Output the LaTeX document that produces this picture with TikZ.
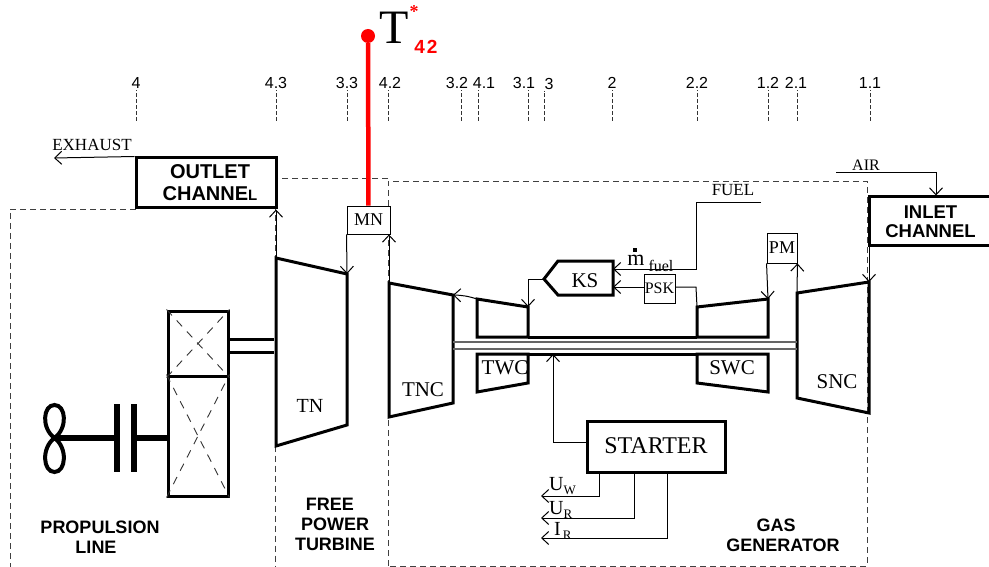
\documentclass[tikz,border=0pt]{standalone}
\usepackage{fontspec}
\setmainfont{Liberation Serif}
\setsansfont{Liberation Sans}
\usetikzlibrary{arrows.meta,positioning}
\newcommand{\fs}[1]{\fontsize{#1}{#1}\selectfont}
\newcommand{\subtxt}[1]{\raisebox{-4pt}{\fs{13}#1}}

\begin{document}
\begin{tikzpicture}[x=1pt,y=-1pt,>={Straight Barb[length=7pt,width=13pt]}]
  \tikzstyle{heavy}=[line width=3pt,line join=miter]
  \tikzstyle{flow}=[line width=1pt]
  \tikzstyle{zone}=[line width=0.9pt,dash pattern=on 6pt off 4pt,black!75]
  \tikzstyle{tick}=[line width=0.8pt,dash pattern=on 3.5pt off 2.5pt,black!80]
  \tikzstyle{cross}=[line width=0.9pt,dash pattern=on 8pt off 7pt,black!80]
  \tikzstyle{station}=[font=\sffamily\fs{16},inner sep=1pt]
  \tikzstyle{serif}=[font=\fs{17},inner sep=0pt]
  \tikzstyle{zonetxt}=[font=\sffamily\bfseries\fs{18},align=center,inner sep=0pt]
  \tikzstyle{bigbox}=[draw,line width=3pt,font=\sffamily\bfseries\fs{20},align=center,inner sep=0pt]
  \tikzstyle{smallbox}=[draw,line width=0.9pt,fill=white,font=\fs{18},inner sep=0pt]
  \useasboundingbox (0,0) rectangle (989,567);

  % zones
  \coordinate (pl1) at (136,209);
  \coordinate (pl2) at (10,209);
  \coordinate (pl3) at (10,567);
  \coordinate (fp1) at (275,178.5);
  \coordinate (fp2) at (388,178.5);
  \coordinate (fp3) at (275,567);
  \coordinate (gg1) at (388,181);
  \coordinate (gg2) at (867,181);
  \coordinate (gg3) at (867,566);
  \coordinate (gg4) at (388,566);
  \draw[zone] (pl1) -- (pl2) -- (pl3);
  \draw[zone] (fp2) -- (fp1) -- (fp3);
  \draw[zone] (gg4) -- (gg1) -- (gg2) -- (gg3) -- cycle;

  % stations
  \coordinate (c4) at (136,121);
  \node[station] (s4) at (136,83) {4};
  \draw[tick] (c4) -- (c4 |- s4.south);
  \coordinate (c43) at (276,121);
  \node[station] (s43) at (276,83) {4.3};
  \draw[tick] (c43) -- (c43 |- s43.south);
  \coordinate (c33) at (347,121);
  \node[station] (s33) at (347,83) {3.3};
  \draw[tick] (c33) -- (c33 |- s33.south);
  \coordinate (c42) at (388,121);
  \node[station] (s42) at (390,83) {4.2};
  \draw[tick] (c42) -- (c42 |- s42.south);
  \coordinate (c32) at (461,121);
  \node[station] (s32) at (457,83) {3.2};
  \draw[tick] (c32) -- (c32 |- s32.south);
  \coordinate (c41) at (478,121);
  \node[station] (s41) at (484,83) {4.1};
  \draw[tick] (c41) -- (c41 |- s41.south);
  \coordinate (c31) at (528,121);
  \node[station] (s31) at (524,83) {3.1};
  \draw[tick] (c31) -- (c31 |- s31.south);
  \coordinate (c3) at (544,121);
  \node[station] (s3) at (549,84) {3};
  \draw[tick] (c3) -- (c3 |- s3.south);
  \coordinate (c2) at (612,121);
  \node[station] (s2) at (612,83) {2};
  \draw[tick] (c2) -- (c2 |- s2.south);
  \coordinate (c22) at (697,121);
  \node[station] (s22) at (697,83) {2.2};
  \draw[tick] (c22) -- (c22 |- s22.south);
  \coordinate (c12) at (768,121);
  \node[station] (s12) at (768,83) {1.2};
  \draw[tick] (c12) -- (c12 |- s12.south);
  \coordinate (c21) at (797,121);
  \node[station] (s21) at (796,83) {2.1};
  \draw[tick] (c21) -- (c21 |- s21.south);
  \coordinate (c11) at (870,121);
  \node[station] (s11) at (870,83) {1.1};
  \draw[tick] (c11) -- (c11 |- s11.south);

  % channels
  \node[bigbox,minimum width=140pt,minimum height=50pt] (outlet) at (206,183) {\raisebox{-2pt}{\hspace{8pt}OUTLET}\\[2pt]\raisebox{-2pt}{\hspace{8pt}CHANNE{\fs{15}L}}};
  \node[bigbox,font=\sffamily\bfseries\fs{18.5},minimum width=126pt,minimum height=49pt] (inlet) at (932,221.5) {\raisebox{-1pt}{\hspace{-3pt}INLET}\\[1pt]\raisebox{-1pt}{\hspace{-3pt}CHANNEL}};
  \coordinate (ex) at (54,158);
  \node[serif] (exhaust) at (92,145) {EXHAUST};
  \draw[flow,->] (outlet.north west) -- (ex);
  \coordinate (air1) at (836,173);
  \coordinate (air2) at (936,173);
  \node[serif,font=\fs{16}] (air) at (866,165) {AIR};
  \draw[flow,->] (air1) -- (air2) -- (air2 |- inlet.north);

  % free power turbine
  \coordinate (tn1) at (276,258);
  \coordinate (tn2) at (347,274);
  \coordinate (tn3) at (347,425);
  \coordinate (tn4) at (276,446);
  \draw[heavy] (tn1) -- (tn2) -- (tn3) -- (tn4) -- cycle;
  \node[serif,font=\fs{20}] (tn) at (310,406) {TN};
  \draw[flow,->] (tn1) -- (tn1 |- outlet.south);

  % gearbox and propeller
  \node[draw,line width=3pt,minimum width=60pt,minimum height=65pt] (gearA) at (198,343.5) {};
  \node[draw,line width=3pt,minimum width=60pt,minimum height=120pt,below=-3pt of gearA] (gearB) {};
  \draw[cross] (gearA.north west) -- (gearA.south east);
  \draw[cross] (gearA.south west) -- (gearA.north east);
  \draw[cross] (gearB.north west) -- (gearB.south east);
  \draw[cross] (gearB.south west) -- (gearB.north east);
  \coordinate (pt1) at (274,339);
  \coordinate (pt2) at (274,352);
  \draw[heavy] (gearA.east |- pt1) -- (pt1);
  \draw[heavy] (gearA.east |- pt2) -- (pt2);
  \coordinate (hub) at (54.5,438);
  \coordinate (blade1) at (54.5,405);
  \coordinate (blade2) at (54.5,472);
  \draw[line width=4pt] (hub) .. controls (41,428) and (43,405) .. (blade1) .. controls (66,405) and (68,428) .. (hub) .. controls (41,448) and (43,472) .. (blade2) .. controls (66,472) and (68,448) .. (hub) -- cycle;
  \node[fill,minimum width=6pt,minimum height=68pt,inner sep=0pt] (clutch1) at (117,438) {};
  \node[fill,minimum width=6pt,minimum height=68pt,inner sep=0pt] (clutch2) at (134,438) {};
  \draw[line width=6pt] (hub) -- (clutch1);
  \draw[line width=6pt] (clutch2) -- (clutch2 -| gearB.west);

  % measuring points
  \node[smallbox,minimum width=43pt,minimum height=28pt] (mn) at (368.5,220) {MN};
  \node[smallbox,minimum width=30pt,minimum height=30pt] (pm) at (782,248) {PM};
  \node[smallbox,font=\fs{16},minimum width=31pt,minimum height=29pt] (psk) at (659.5,288.5) {PSK};
  \draw[flow,->] (mn.south west) -- (tn2);

  % temperature probe
  \node[circle,fill=red,minimum size=14pt,inner sep=0pt] (probe) at (368,36) {};
  \draw[red,line width=4.5pt] (probe) -- (mn);
  \node[inner sep=0pt,font=\fs{48}] (temp) at (394,28) {T};
  \node[inner sep=0pt,red,font=\bfseries\fs{18}] (star) at (414,12) {*};
  \node[inner sep=0pt,red,font=\sffamily\bfseries\fs{19}] (idx) at (426,47) {4\hspace{2pt}2};

  % gas generator
  \coordinate (tnc1) at (389,283);
  \coordinate (tnc2) at (453,295);
  \coordinate (tnc3) at (453,403);
  \coordinate (tnc4) at (389,417);
  \draw[heavy] (tnc1) -- (tnc2) -- (tnc3) -- (tnc4) -- cycle;
  \node[serif,font=\fs{21}] (tnc) at (423,390) {TNC};
  \draw[flow,->] (tnc1) -- (tnc1 |- mn.south);

  \coordinate (twc1) at (477,299);
  \coordinate (twc2) at (528,307);
  \coordinate (twc3) at (528,337);
  \coordinate (twc4) at (477,337);
  \coordinate (twc5) at (477,354);
  \coordinate (twc6) at (528,354);
  \coordinate (twc7) at (528,383);
  \coordinate (twc8) at (477,392);
  \coordinate (swc1) at (697,307);
  \coordinate (swc2) at (768,299);
  \coordinate (swc3) at (768,337);
  \coordinate (swc4) at (697,337);
  \coordinate (swc5) at (697,354);
  \coordinate (swc6) at (768,354);
  \coordinate (swc7) at (768,392);
  \coordinate (swc8) at (697,383);
  \draw[heavy] (twc1) -- (twc2) -- (twc3) -- (twc4) -- cycle;
  \draw[heavy] (twc5) -- (twc6) -- (twc7) -- (twc8) -- cycle;
  \draw[heavy] (swc1) -- (swc2) -- (swc3) -- (swc4) -- cycle;
  \draw[heavy] (swc5) -- (swc6) -- (swc7) -- (swc8) -- cycle;
  \draw[heavy] (twc3) -- (swc4);
  \draw[heavy] (twc6) -- (swc5);
  \node[serif,font=\fs{21}] (twc) at (505,368) {TWC};
  \node[serif,font=\fs{21}] (swc) at (732,368) {SWC};

  \coordinate (snc1) at (797,293);
  \coordinate (snc2) at (869,282);
  \coordinate (snc3) at (869,413);
  \coordinate (snc4) at (797,398);
  \draw[heavy] (snc1) -- (snc2) -- (snc3) -- (snc4) -- cycle;
  \node[serif,font=\fs{21}] (snc) at (837,382) {SNC};

  \coordinate (sh1) at (453,342);
  \coordinate (sh2) at (797,342);
  \coordinate (sh3) at (453,349);
  \coordinate (sh4) at (797,349);
  \draw[line width=2pt,black!60] (sh1) -- (sh2);
  \draw[line width=2pt,black!60] (sh3) -- (sh4);

  \draw[flow,->] (twc1) to[bend right=8] (tnc2);
  \draw[flow,->] (snc2 |- inlet.south) -- (snc2);
  \draw[flow,->] (pm.south west) -- (swc2);
  \draw[flow,->] (snc1) -- (pm.south east);

  % combustor
  \coordinate (ks1) at (544,279);
  \coordinate (ks2) at (558,261);
  \coordinate (ks3) at (613,261);
  \coordinate (ks4) at (613,295);
  \coordinate (ks5) at (558,295);
  \draw[heavy] (ks1) -- (ks2) -- (ks3) -- (ks4) -- (ks5) -- cycle;
  \node[serif,font=\fs{21}] (ks) at (585,281) {KS};
  \coordinate (ksin1) at (613,269);
  \coordinate (ksin2) at (613,287);
  \coordinate (ksout) at (528,279);
  \draw[flow,->] (ks1) -- (ksout) -- (twc2);
  \coordinate (fu1) at (761,203);
  \coordinate (fu2) at (696,203);
  \coordinate (fu3) at (696,269);
  \node[serif] (fuel) at (733,190) {FUEL};
  \draw[flow,->] (fu1) -- (fu2) -- (fu3) -- (ksin1);
  \node[serif,font=\fs{22}] (mdot) at (636,257) {\rlap{\hspace{6pt}\raisebox{14pt}{\rule{3.5pt}{3.5pt}}}m};
  \node[serif,font=\fs{16}] (mfuel) at (661,266) {fuel};
  \draw[flow,->] (psk.west |- ksin2) -- (ksin2);
  \coordinate (pk1) at (696,287);
  \draw[flow] (psk.east |- pk1) -- (pk1) -- (swc1);

  % starter
  \node[draw,line width=3pt,font=\fs{24},minimum width=138pt,minimum height=51pt] (starter) at (656,446.5) {\raisebox{2pt}{STARTER}};
  \coordinate (st1) at (553,442);
  \coordinate (st2) at (553,354);
  \draw[flow,->] (starter.west |- st1) -- (st1) -- (st2);
  \coordinate (uw) at (541,496);
  \coordinate (ur) at (541,518);
  \coordinate (ir) at (541,538);
  \coordinate (uw1) at (599,472);
  \coordinate (ur1) at (634,472);
  \coordinate (ir1) at (667,472);
  \draw[flow,->] (uw1) -- (uw1 |- uw) -- (uw);
  \draw[flow,->] (ur1) -- (ur1 |- ur) -- (ur);
  \draw[flow,->] (ir1) -- (ir1 |- ir) -- (ir);
  \node[serif,font=\fs{20},anchor=base west] (uwtxt) at (549,490) {U\subtxt{W}};
  \node[serif,font=\fs{20},anchor=base west] (urtxt) at (549,514) {U\subtxt{R}};
  \node[serif,font=\fs{20},anchor=base west] (irtxt) at (554,535) {I\hspace{2pt}\subtxt{R}};

  % labels
  \node[zonetxt] (propulsion) at (100,537) {PROPULSION\\[2pt]\hspace{-8pt}LINE};
  \node[zonetxt] (power) at (335,524) {\hspace{-10pt}FREE\\[2pt]POWER\\[2pt]TURBINE};
  \node[zonetxt] (gasgen) at (783,535) {\hspace{-14pt}GAS\\[2pt]GENERATOR};
\end{tikzpicture}
\end{document}
